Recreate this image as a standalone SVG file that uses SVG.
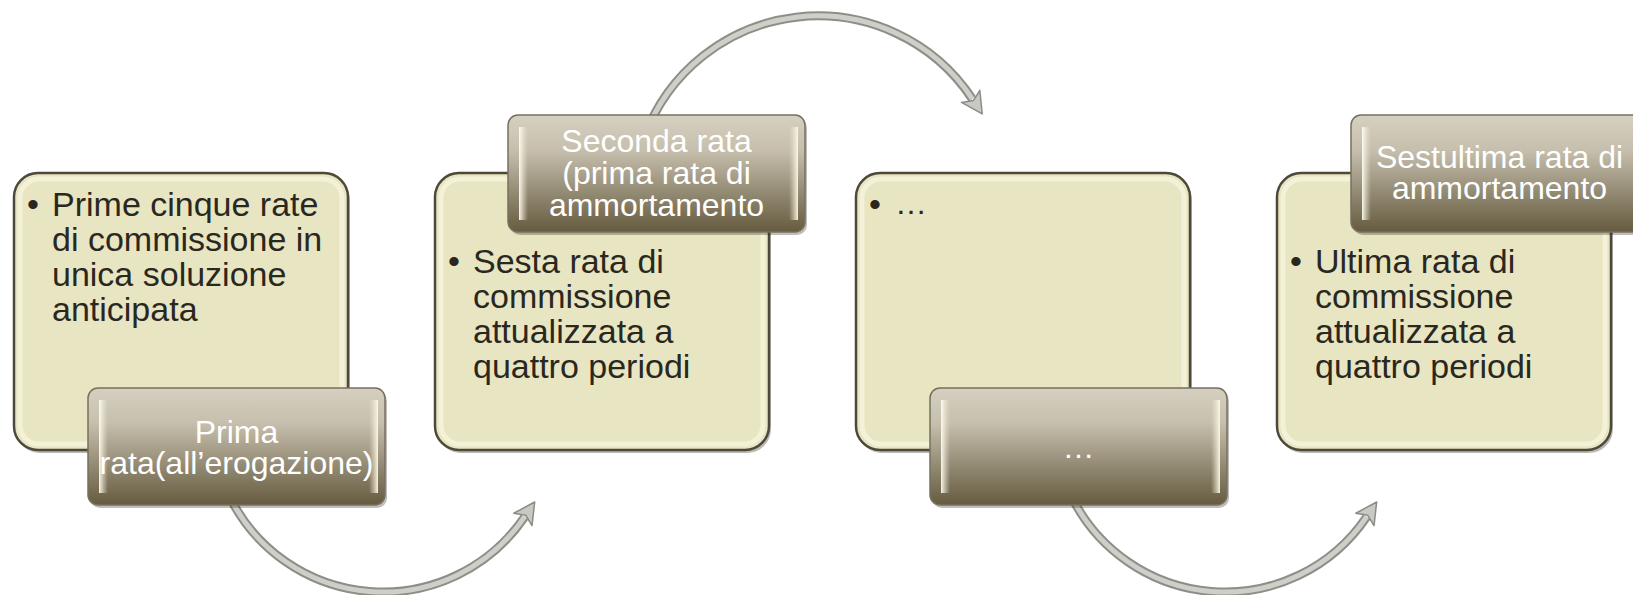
<svg xmlns="http://www.w3.org/2000/svg" width="1633" height="595" viewBox="0 0 1633 595">
<style>
.card{fill:#E8E5C2;stroke:#4D493A;stroke-width:2.5}
.card-shadow{fill:#3A3628;opacity:0.35}
.card-glow{fill:none;stroke:#F7F5E0;stroke-width:5;opacity:0.75}
.lab{fill:url(#gDark);stroke:#77705F;stroke-width:1.5}
.lab-shadow{fill:#2A261A;opacity:0.3}
.hiL{fill:url(#gHiL)}
.hiR{fill:url(#gHiR)}
.ct{font-family:"Liberation Sans",Arial,sans-serif;font-size:34px;fill:#2A281E}
.lt{font-family:"Liberation Sans",Arial,sans-serif;font-size:32px;fill:#FFFFFF;text-anchor:middle}
.edge{fill:none;stroke:#8E8E89;stroke-width:9;stroke-linecap:butt}
.core{fill:none;stroke:#CFCFCA;stroke-width:5;stroke-linecap:butt}
</style>
<defs>
<linearGradient id="gDark" x1="0" y1="0" x2="0" y2="1">
<stop offset="0" stop-color="#D6D0C1"/>
<stop offset="0.3" stop-color="#C6BFAD"/>
<stop offset="0.7" stop-color="#8E856E"/>
<stop offset="1" stop-color="#665B3F"/>
</linearGradient>
<linearGradient id="gHiL" x1="0" y1="0" x2="1" y2="0">
<stop offset="0" stop-color="#FFFFF4" stop-opacity="0.95"/>
<stop offset="1" stop-color="#E9E2CC" stop-opacity="0"/>
</linearGradient>
<linearGradient id="gHiR" x1="0" y1="0" x2="1" y2="0">
<stop offset="0" stop-color="#E9E2CC" stop-opacity="0"/>
<stop offset="1" stop-color="#FFFBE6" stop-opacity="0.95"/>
</linearGradient>
<marker id="head" markerUnits="userSpaceOnUse" markerWidth="28" markerHeight="28" viewBox="-6 -14 28 28" refX="0" refY="0" orient="auto">
<path d="M18,0 L-3,-11 L2,0 L-3,11 Z" fill="#C9C9C4" stroke="#8C8C87" stroke-width="1.5" stroke-linejoin="round"/>
</marker>
</defs>
<rect x="0" y="0" width="1633" height="595" fill="#FFFFFF"/>

<g id="connectors">
<path class="edge" d="M228,493.3 A171,171 0 0,0 524.6,516.9" marker-end="url(#head)"/>
<path class="core" d="M228,493.3 A171,171 0 0,0 524.6,516.9"/>
<path class="edge" d="M644,138 A185,185 0 0,1 972.3,98.9" marker-end="url(#head)"/>
<path class="core" d="M644,138 A185,185 0 0,1 972.3,98.9"/>
<path class="edge" d="M1070,493.3 A171,171 0 0,0 1366.6,516.9" marker-end="url(#head)"/>
<path class="core" d="M1070,493.3 A171,171 0 0,0 1366.6,516.9"/>
</g>

<g id="card1">
<rect class="card-shadow" x="16" y="176" width="334" height="277" rx="24"/>
<rect class="card" x="14" y="173" width="334" height="277" rx="24"/>
<rect class="card-glow" x="20" y="179" width="322" height="265" rx="19"/>
<text class="ct" x="27" y="216">•</text>
<text class="ct" x="52" y="216">Prime cinque rate</text>
<text class="ct" x="52" y="251">di commissione in</text>
<text class="ct" x="52" y="286">unica soluzione</text>
<text class="ct" x="52" y="321">anticipata</text>
</g>
<g id="label1">
<rect class="lab-shadow" x="90" y="391" width="297" height="117" rx="10"/>
<rect class="lab" x="88" y="388" width="297" height="117" rx="10"/>
<rect class="hiL" x="99" y="400" width="9" height="93"/>
<rect class="hiR" x="369" y="400" width="9" height="93"/>
<text class="lt" x="236.5" y="443">Prima</text>
<text class="lt" x="236.5" y="474">rata(all’erogazione)</text>
</g>

<g id="card2">
<rect class="card-shadow" x="437" y="176" width="334" height="277" rx="24"/>
<rect class="card" x="435" y="173" width="334" height="277" rx="24"/>
<rect class="card-glow" x="441" y="179" width="322" height="265" rx="19"/>
<text class="ct" x="448" y="273">•</text>
<text class="ct" x="473" y="273">Sesta rata di</text>
<text class="ct" x="473" y="308">commissione</text>
<text class="ct" x="473" y="343">attualizzata a</text>
<text class="ct" x="473" y="378">quattro periodi</text>
</g>
<g id="label2">
<rect class="lab-shadow" x="510" y="118" width="297" height="117" rx="10"/>
<rect class="lab" x="508" y="115" width="297" height="117" rx="10"/>
<rect class="hiL" x="519" y="127" width="9" height="93"/>
<rect class="hiR" x="789" y="127" width="9" height="93"/>
<text class="lt" x="656.5" y="152">Seconda rata</text>
<text class="lt" x="656.5" y="184">(prima rata di</text>
<text class="lt" x="656.5" y="216">ammortamento</text>
</g>

<g id="card3">
<rect class="card-shadow" x="858" y="176" width="334" height="277" rx="24"/>
<rect class="card" x="856" y="173" width="334" height="277" rx="24"/>
<rect class="card-glow" x="862" y="179" width="322" height="265" rx="19"/>
<text class="ct" x="869" y="216">•</text>
<text class="ct" x="895" y="214" style="font-size:32px">…</text>
</g>
<g id="label3">
<rect class="lab-shadow" x="932" y="391" width="297" height="117" rx="10"/>
<rect class="lab" x="930" y="388" width="297" height="117" rx="10"/>
<rect class="hiL" x="941" y="400" width="9" height="93"/>
<rect class="hiR" x="1211" y="400" width="9" height="93"/>
<text class="lt" x="1078.5" y="458">…</text>
</g>

<g id="card4">
<rect class="card-shadow" x="1279" y="176" width="334" height="277" rx="24"/>
<rect class="card" x="1277" y="173" width="334" height="277" rx="24"/>
<rect class="card-glow" x="1283" y="179" width="322" height="265" rx="19"/>
<text class="ct" x="1290" y="273">•</text>
<text class="ct" x="1315" y="273">Ultima rata di</text>
<text class="ct" x="1315" y="308">commissione</text>
<text class="ct" x="1315" y="343">attualizzata a</text>
<text class="ct" x="1315" y="378">quattro periodi</text>
</g>
<g id="label4">
<rect class="lab-shadow" x="1353" y="118" width="297" height="117" rx="10"/>
<rect class="lab" x="1351" y="115" width="297" height="117" rx="10"/>
<rect class="hiL" x="1362" y="127" width="9" height="93"/>
<text class="lt" x="1499.5" y="168">Sestultima rata di</text>
<text class="lt" x="1499.5" y="199">ammortamento</text>
</g>
</svg>
